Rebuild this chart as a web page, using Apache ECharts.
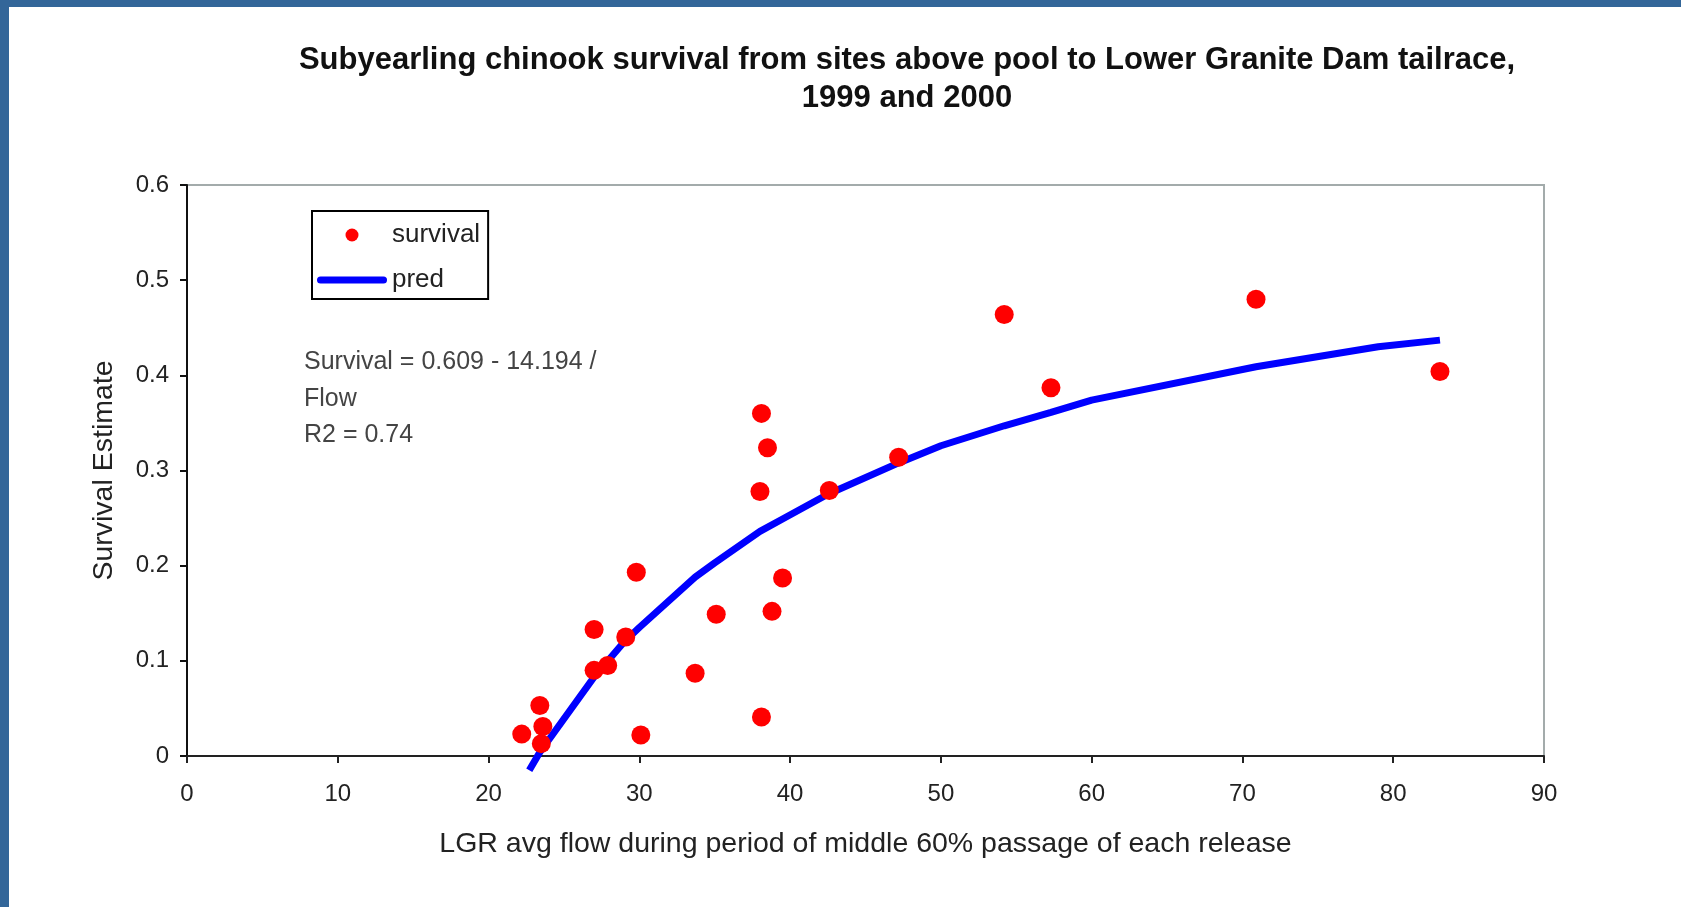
<!DOCTYPE html>
<html>
<head>
<meta charset="utf-8">
<script src="https://cdn.jsdelivr.net/npm/echarts@6/dist/echarts.min.js"></script>
<style>
    html, body { margin: 0; padding: 0; background: #fff; }
    #frame {
        position: absolute; left: 0; top: 0;
        width: 1681px; height: 907px;
        box-sizing: border-box;
        border-left: 9px solid #336699;
        border-top: 7px solid #336699;
    }
    #chart { position: absolute; left: 0; top: 0; width: 1681px; height: 907px; }
</style>
</head>
<body>
<div id="frame"></div>
<div id="chart"></div>
<script>
// observed survival estimates vs LGR flow (kcfs)
var flow = [22.2, 23.4, 23.6, 23.5, 27.0, 27.0, 27.9, 29.1, 29.8, 30.1, 33.7, 35.1,
    38.1, 38.0, 38.1, 38.5, 38.8, 39.5, 42.6, 47.2, 54.2, 57.3, 70.9, 83.1];
var survival = [0.023, 0.053, 0.031, 0.013, 0.133, 0.090, 0.095, 0.125, 0.193, 0.022, 0.087, 0.149,
    0.041, 0.278, 0.360, 0.324, 0.152, 0.187, 0.279, 0.314, 0.464, 0.387, 0.480, 0.404];

// fitted curve
var predFlow = [22.7, 23.4, 27.0, 29.0, 30.0, 33.7, 35.0, 38.0, 39.5, 42.5, 47.2, 50.0,
    54.2, 57.3, 60.0, 70.9, 79.0, 83.1];
var predValue = [-0.015, 0.004, 0.083, 0.120, 0.135, 0.188, 0.203, 0.236, 0.249, 0.275, 0.308, 0.326,
    0.347, 0.361, 0.374, 0.409, 0.430, 0.437];

var titleText = 'Subyearling chinook survival from sites above pool to Lower Granite Dam tailrace,\n1999 and 2000';
var equationText = 'Survival = 0.609 - 14.194 /\nFlow\nR2 = 0.74';

var font = "'Liberation Sans', Arial, sans-serif";

var scatterData = flow.map(function (f, i) { return [f, survival[i]]; });
var predData = predFlow.map(function (f, i) { return [f, predValue[i]]; });

var chart = echarts.init(document.getElementById('chart'), null, { renderer: 'canvas' });
chart.setOption({
    backgroundColor: 'transparent',
    animation: false,
    textStyle: { fontFamily: font },
    title: [{
        text: titleText,
        left: 907,
        top: 41,
        padding: 0,
        textAlign: 'center',
        textStyle: { fontSize: 31, fontWeight: 'bold', color: '#111', lineHeight: 38, fontFamily: font }
    }, {
        text: equationText,
        left: 304,
        top: 344,
        padding: 0,
        textStyle: { fontSize: 25, fontWeight: 'normal', color: '#444', lineHeight: 36.5, fontFamily: font }
    }],
    legend: {
        orient: 'vertical',
        left: 312,
        top: 211,
        padding: [9, 8, 4, 5],
        itemWidth: 70,
        itemHeight: 13,
        itemGap: 15,
        symbolKeepAspect: true,
        borderColor: '#000',
        borderWidth: 2,
        backgroundColor: '#fff',
        textStyle: { fontSize: 26, color: '#222', lineHeight: 30, fontFamily: font },
        data: [
            { name: 'survival', icon: 'circle' },
            { name: 'pred', icon: 'path://M3.5,0 L66.5,0 A3.5,3.5 0 0 1 66.5,7 L3.5,7 A3.5,3.5 0 0 1 3.5,0 Z' }
        ]
    },
    grid: {
        left: 187,
        right: 137,
        top: 185,
        bottom: 151,
        show: true,
        borderColor: '#a3abab',
        borderWidth: 2
    },
    xAxis: {
        type: 'value',
        min: 0,
        max: 90,
        interval: 10,
        name: 'LGR avg flow during period of middle 60% passage of each release',
        nameLocation: 'middle',
        nameGap: 74,
        nameTextStyle: { fontSize: 28.5, color: '#222', fontFamily: font },
        axisLine: { onZero: false, lineStyle: { color: '#222', width: 2 } },
        axisTick: { show: true, inside: false, length: 7, lineStyle: { color: '#222', width: 2 } },
        axisLabel: { fontSize: 24, color: '#222', margin: 26, fontFamily: font },
        splitLine: { show: false }
    },
    yAxis: {
        type: 'value',
        min: 0,
        max: 0.6,
        interval: 0.1,
        name: 'Survival Estimate',
        nameLocation: 'middle',
        nameRotate: 90,
        nameGap: 68,
        nameTextStyle: { fontSize: 28.5, color: '#222', fontFamily: font },
        axisLine: { lineStyle: { color: '#111', width: 2 } },
        axisTick: { show: true, inside: false, length: 7, lineStyle: { color: '#111', width: 2 } },
        axisLabel: { fontSize: 24, color: '#222', margin: 18, fontFamily: font },
        splitLine: { show: false }
    },
    series: [{
        name: 'pred',
        type: 'line',
        data: predData,
        symbol: 'none',
        smooth: false,
        clip: false,
        z: 2,
        lineStyle: { color: '#0000ff', width: 7 },
        itemStyle: { color: '#0000ff' }
    }, {
        name: 'survival',
        type: 'scatter',
        data: scatterData,
        symbol: 'circle',
        symbolSize: 19,
        z: 3,
        itemStyle: { color: '#ff0000', opacity: 1 }
    }]
});
</script>
</body>
</html>
